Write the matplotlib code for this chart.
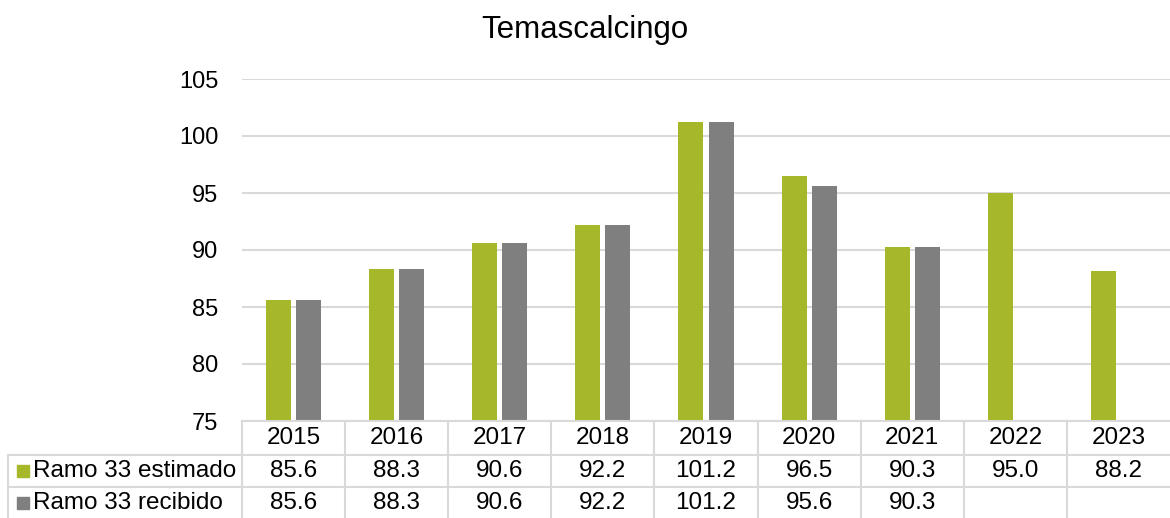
import numpy as np
import matplotlib.pyplot as plt
from matplotlib.lines import Line2D
from matplotlib.patches import Rectangle
from matplotlib.transforms import blended_transform_factory

plt.rcParams['font.family'] = ['Liberation Sans', 'DejaVu Sans']

# datos
anios = ['2015', '2016', '2017', '2018', '2019', '2020', '2021', '2022', '2023']
estimado = [85.6, 88.3, 90.6, 92.2, 101.2, 96.5, 90.3, 95.0, 88.2]
recibido = [85.6, 88.3, 90.6, 92.2, 101.2, 95.6, 90.3, np.nan, np.nan]
series = ['Ramo 33 estimado', 'Ramo 33 recibido']
colores = ['#a6b82a', '#7f7f7f']
yticks = [75, 80, 85, 90, 95, 100, 105]

W, H = 1170, 518
fig = plt.figure(figsize=(W / 100, H / 100), dpi=100)
ax = fig.add_axes([242 / W, 1 - 421 / H, 1 - 242 / W, (421 - 79) / H])

x = np.arange(len(anios))
ancho = 0.243
ax.bar(x - 0.146, estimado, ancho, color=colores[0], zorder=3)
ax.bar(x + 0.146, recibido, ancho, color=colores[1], zorder=3)

ax.set_xlim(-0.5, len(anios) - 0.5)
ax.set_ylim(75, 105)
ax.set_yticks(yticks)
ax.set_xticks([])
ax.tick_params(axis='y', length=0, pad=17, labelsize=17)
for s in ax.spines.values():
    s.set_visible(False)
ax.grid(axis='y', color='#d9d9d9', linewidth=1.5, zorder=0)
fig.text(0.5, 1 - 30 / H, 'Temascalcingo', ha='center', va='center', fontsize=22.5)

# tabla de datos
gris = '#d9d9d9'
tr = blended_transform_factory(ax.transData, fig.transFigure)
def fy(py):
    return 1 - py / H

y_top, y_r1, y_r2, y_bot = 421, 455, 487, 520
# lineas horizontales
fig.add_artist(Line2D([242 / W, 1], [fy(y_top)] * 2, color=gris, lw=1.5))
for yy in (y_r1, y_r2):
    fig.add_artist(Line2D([8 / W, 1], [fy(yy)] * 2, color=gris, lw=1.5))
# lineas verticales
for b in np.arange(len(anios)) - 0.5:
    fig.add_artist(Line2D([b, b], [fy(y_top), fy(y_bot)], color=gris, lw=1.5, transform=tr))
fig.add_artist(Line2D([8 / W, 8 / W], [fy(y_r1), fy(y_bot)], color=gris, lw=1.5))

fs = 17.5
for i, a in enumerate(anios):
    fig.text(i, fy(438), a, ha='center', va='center', fontsize=fs, transform=tr)
    fig.text(i, fy(471), f'{estimado[i]:.1f}', ha='center', va='center', fontsize=fs, transform=tr)
    if not np.isnan(recibido[i]):
        fig.text(i, fy(503), f'{recibido[i]:.1f}', ha='center', va='center', fontsize=fs, transform=tr)

for k, (nombre, yc) in enumerate(zip(series, (471, 503))):
    fig.add_artist(Rectangle((17 / W, fy(yc + 6)), 12 / W, 12 / H, color=colores[k]))
    fig.text(33 / W, fy(yc), nombre, ha='left', va='center', fontsize=fs)

fig.savefig('out.png', dpi=100)
